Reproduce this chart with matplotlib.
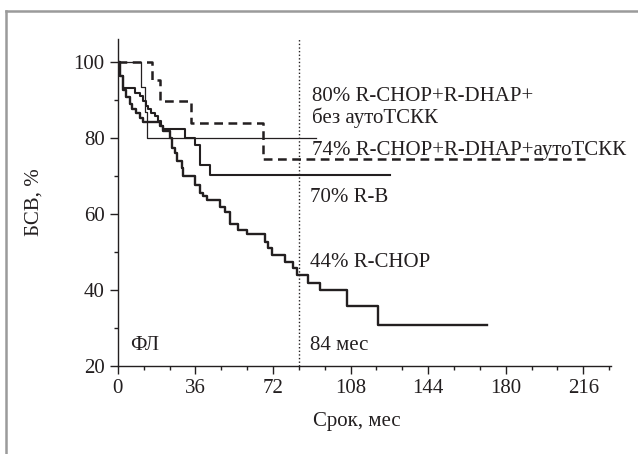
import matplotlib
matplotlib.use("Agg")
import matplotlib.pyplot as plt
from matplotlib.lines import Line2D

# Kaplan-Meier curves: times (months) where a step happens and value after it
rchop_t = [0, 1.1, 2.5, 3.9, 5.5, 6.4, 8.5, 10.1, 11.7, 19.6, 21.2, 24.3, 25.0,
           26.6, 27.4, 29.7, 30.4, 35.8, 38.1, 39.7, 41.2, 47.4, 49.8, 52.1, 55.9,
           59.8, 68.3, 69.9, 71.4, 77.6, 81.5, 83.0, 88.4, 93.8, 106.3, 120.9]
rchop_v = [100, 96.2, 92.6, 90.7, 89.0, 87.5, 86.5, 85.3, 84.2, 83.0, 81.7, 79.9, 77.3,
           76.0, 73.8, 72.0, 69.9, 67.6, 65.6, 64.6, 63.7, 61.8, 60.6, 57.3, 55.8,
           54.6, 52.7, 51.0, 49.2, 47.4, 45.7, 43.9, 41.8, 40.0, 35.8, 30.8]
rchop_end = 171.5

rb_t = [0, 1.2, 2.4, 7.9, 10.1, 11.7, 13.2, 14.0, 15.5, 17.1, 18.6, 20.2, 21.0,
        31.1, 35.7, 38.0, 42.8]
rb_v = [100, 96.2, 93.2, 91.8, 91.0, 89.6, 88.3, 87.5, 86.6, 85.7, 84.4, 83.1, 82.2,
        80.0, 78.2, 72.9, 70.3]
rb_end = 126.3

noasct_t = [0, 10.9, 12.4, 13.7]
noasct_v = [100, 93.3, 86.7, 80.0]
noasct_end = 92

asct_t = [0, 16.0, 19.7, 33.9, 67.6]
asct_v = [100, 95.3, 89.8, 84.0, 74.5]
asct_end = 217

xticks = [0, 36, 72, 108, 144, 180, 216]
yticks = [20, 40, 60, 80, 100]
cutoff = 84

INK = "#231f20"
FS = 15
plt.rcParams["font.family"] = ["Liberation Serif", "DejaVu Serif"]


def km(ax, t, v, end, **kw):
    ax.step(list(t) + [end], list(v) + [v[-1]], where="post", color=INK, **kw)


fig = plt.figure(figsize=(6.38, 4.54), dpi=100)
ax = fig.add_axes([117.8 / 638, 88 / 454, 493.5 / 638, 327 / 454])

km(ax, rchop_t, rchop_v, rchop_end, lw=1.7)
km(ax, rb_t, rb_v, rb_end, lw=1.5)
km(ax, noasct_t, noasct_v, noasct_end, lw=0.9)
km(ax, asct_t, asct_v, asct_end, lw=1.8, linestyle=(0, (3.5, 2.2)))
ax.axvline(cutoff, color=INK, lw=1.0, linestyle=(0, (1, 1.6)))

ax.set_xlim(0, 229)
ax.set_ylim(20, 106)
ax.set_xticks(xticks)
ax.set_xticks(range(0, 229, 12), minor=True)
ax.set_yticks(yticks)
ax.set_yticks(range(20, 101, 10), minor=True)
ax.tick_params(axis="both", which="major", length=5.5, width=1.0, color=INK,
               labelsize=FS, labelcolor=INK, pad=4)
ax.tick_params(axis="both", which="minor", length=3.2, width=1.0, color=INK)
for side in ["top", "right"]:
    ax.spines[side].set_visible(False)
for side in ["left", "bottom"]:
    ax.spines[side].set_color(INK)
    ax.spines[side].set_linewidth(1.0)

ax.set_xlabel("Срок, мес", fontsize=FS, color=INK)
ax.set_ylabel("БСВ, %", fontsize=FS, color=INK)
ax.xaxis.set_label_coords(0.485, -0.142)
ax.yaxis.set_label_coords(-0.15, 0.5)

ax.text(90, 89.8, "80% R-CHOP+R-DHAP+", fontsize=FS, color=INK, va="baseline")
ax.text(90, 83.9, "без аутоТСКК", fontsize=FS, color=INK, va="baseline")
ax.text(90, 75.4, "74% R-CHOP+R-DHAP+аутоТСКК", fontsize=FS, color=INK, va="baseline")
ax.text(89.2, 63.2, "70% R-B", fontsize=FS, color=INK, va="baseline")
ax.text(89.2, 46.1, "44% R-CHOP", fontsize=FS, color=INK, va="baseline")
ax.text(89.0, 24.2, "84 мес", fontsize=FS, color=INK, va="baseline")
ax.text(5.75, 24.2, "ФЛ", fontsize=FS, color=INK, va="baseline")

# grey frame around the figure (only top and left edges are visible)
fig.add_artist(Line2D([5.5 / 638, 1], [1 - 10.5 / 454, 1 - 10.5 / 454],
                      transform=fig.transFigure, color="#9b9b9b", lw=1.8))
fig.add_artist(Line2D([5.5 / 638, 5.5 / 638], [0, 1 - 10.5 / 454],
                      transform=fig.transFigure, color="#9b9b9b", lw=1.8))

fig.savefig("out.png", dpi=100)
